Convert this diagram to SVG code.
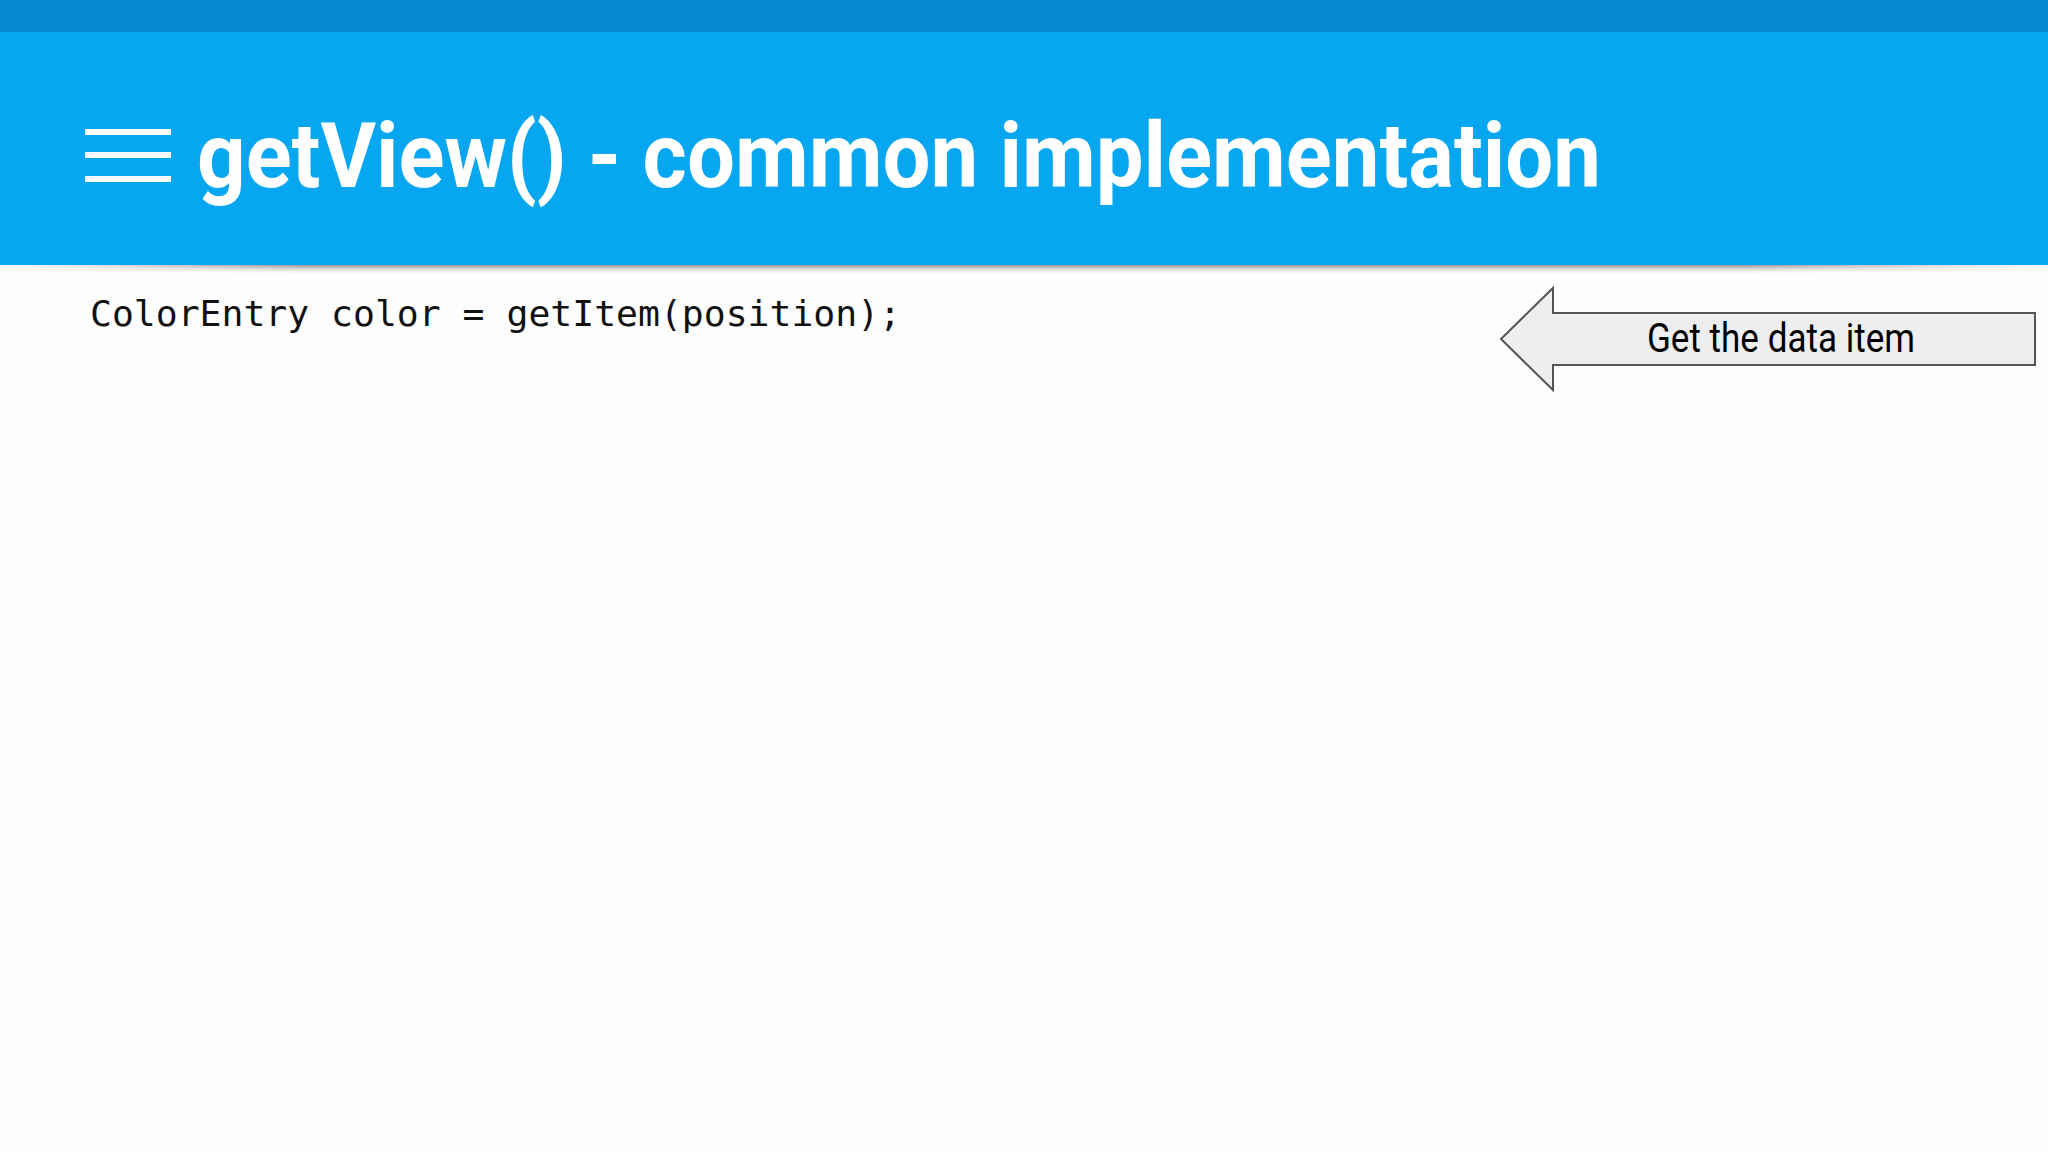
<svg xmlns="http://www.w3.org/2000/svg" width="2048" height="1152" viewBox="0 0 2048 1152">
<defs>
<linearGradient id="sh" x1="0" y1="0" x2="0" y2="1"><stop offset="0" stop-color="#666" stop-opacity="0.7"/><stop offset="1" stop-color="#fff" stop-opacity="0"/></linearGradient>
<linearGradient id="shx" x1="0" y1="0" x2="1" y2="0"><stop offset="0" stop-color="#fff" stop-opacity="1"/><stop offset="0.15" stop-color="#fff" stop-opacity="0"/><stop offset="0.85" stop-color="#fff" stop-opacity="0"/><stop offset="1" stop-color="#fff" stop-opacity="1"/></linearGradient>
</defs>
<style>
.t{font-family:Roboto,"Liberation Sans",sans-serif;font-weight:bold;fill:#fff}
.c{font-family:"DejaVu Sans Mono","Liberation Mono",monospace;fill:#111}
.l{font-family:Roboto,"Liberation Sans",sans-serif;fill:#000}
</style>
<rect width="2048" height="1152" fill="#fdfdfd"/>
<g id="header">
<rect width="2048" height="265" fill="#06a6f0"/>
<rect width="2048" height="32" fill="#0588d2"/>
<rect x="0" y="265" width="2048" height="10" fill="url(#sh)"/>
<rect x="0" y="265" width="2048" height="10" fill="url(#shx)"/>
<rect x="85" y="129" width="86" height="6" fill="#fff"/>
<rect x="85" y="152" width="86" height="6" fill="#fff"/>
<rect x="85" y="176" width="86" height="6" fill="#fff"/>
<text class="t" x="197" y="187" font-size="91" textLength="1404" lengthAdjust="spacingAndGlyphs">getView() - common implementation</text>
</g>
<g id="code"><text class="c" x="90" y="326" font-size="35" textLength="811" lengthAdjust="spacingAndGlyphs">ColorEntry color = getItem(position);</text></g>
<g id="callout">
<polygon points="1501,339 1553,288 1553,313 2035,313 2035,365 1553,365 1553,390" fill="#eeedef" stroke="#555" stroke-width="2"/>
<text class="l" x="1781" y="352" font-size="40" text-anchor="middle" textLength="268" lengthAdjust="spacingAndGlyphs">Get the data item</text>
</g>
<g id="connectors"/>
</svg>
